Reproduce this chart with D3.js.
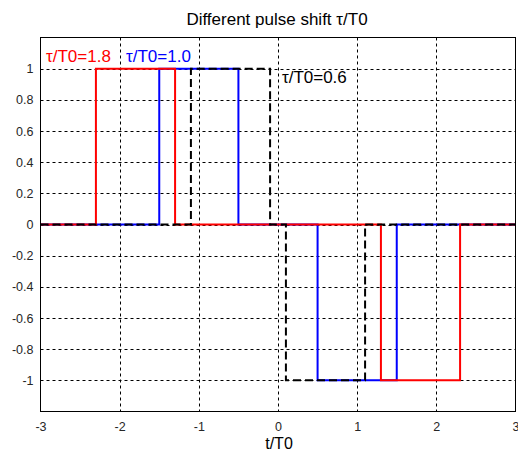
<!DOCTYPE html>
<html><head><meta charset="utf-8">
<script src="https://cdn.jsdelivr.net/npm/d3@7"></script>
<style>body{margin:0;background:#fff}svg{display:block}text{font-family:"Liberation Sans",Arial,sans-serif}</style>
</head><body>
<script>
const xTicks = [-3,-2,-1,0,1,2,3];
const yTicks = [-1,-0.8,-0.6,-0.4,-0.2,0,0.2,0.4,0.6,0.8,1];
// pulse waveforms: [t, value] step points
const blueT = [-3,-1.5,-1.5,-0.5,-0.5,0.5,0.5,1.5,1.5,3];
const blueV = [0,0,1,1,0,0,-1,-1,0,0];
const redT = [-3,-2.3,-2.3,-1.3,-1.3,1.3,1.3,2.3,2.3,3];
const redV = [0,0,1,1,0,0,-1,-1,0,0];
const blackT = [-3,-1.1,-1.1,-0.1,-0.1,0.1,0.1,1.1,1.1,3];
const blackV = [0,0,1,1,0,0,-1,-1,0,0];
const labels = ["τ/T0=1.8","τ/T0=1.0","τ/T0=0.6"];
const labelT = [-2.93,-1.92,0.05];
const labelV = [1.04,1.04,0.905];

const W=518,H=451;
const svg=d3.select("body").append("svg").attr("width",W).attr("height",H);
const x=d3.scaleLinear().domain([-3,3]).range([40.5,515.5]);
const y=d3.scaleLinear().domain([-1.2,1.2]).range([411.5,37.5]);
const fmt=d=>String(d);

// grid
const g=svg.append("g");
g.selectAll(".vx").data(xTicks.slice(1,-1)).join("line")
 .attr("x1",d=>Math.round(x(d))+0.5).attr("x2",d=>Math.round(x(d))+0.5)
 .attr("y1",y(1.2)).attr("y2",y(-1.2))
 .attr("stroke","#000").attr("stroke-width",1).attr("stroke-dasharray","3,3");
g.selectAll(".hy").data(yTicks).join("line")
 .attr("y1",d=>Math.round(y(d))+0.5).attr("y2",d=>Math.round(y(d))+0.5)
 .attr("x1",x(-3)).attr("x2",x(3))
 .attr("stroke","#000").attr("stroke-width",1).attr("stroke-dasharray","3,3");

// axes
const xa=svg.append("g").attr("transform",`translate(0,${y(-1.2)})`)
 .call(d3.axisBottom(x).tickValues(xTicks).tickSize(0).tickPadding(11).tickFormat(fmt));
const ya=svg.append("g").attr("transform",`translate(${x(-3)},0)`)
 .call(d3.axisLeft(y).tickValues(yTicks).tickSize(0).tickPadding(7).tickFormat(fmt));
[xa,ya].forEach(a=>{a.select(".domain").remove();a.selectAll("text").attr("font-size",12.5).attr("fill","#262626");});

// lines
const line=d3.line().x(d=>x(d[0])).y(d=>y(d[1]));
function pts(T,V){return T.map((t,i)=>[t,V[i]]);}
svg.append("path").attr("d",line(pts(blueT,blueV))).attr("fill","none").attr("stroke","#0000ff").attr("stroke-width",2);
svg.append("path").attr("d",line(pts(redT,redV))).attr("fill","none").attr("stroke","#ff0000").attr("stroke-width",2);
svg.append("path").attr("d",line(pts(blackT,blackV))).attr("fill","none").attr("stroke","#000").attr("stroke-width",2).attr("stroke-dasharray","8,4");

// box
svg.append("rect").attr("x",x(-3)).attr("y",y(1.2)).attr("width",x(3)-x(-3)).attr("height",y(-1.2)-y(1.2))
 .attr("fill","none").attr("stroke","#000").attr("stroke-width",1);

// labels
const cols=["#ff0000","#0000ff","#000"];
svg.selectAll(".lab").data(labels).join("text")
 .attr("x",(d,i)=>x(labelT[i])).attr("y",(d,i)=>y(labelV[i]))
 .attr("font-size",17).attr("fill",(d,i)=>cols[i]).text(d=>d);

svg.append("text").attr("x",277).attr("y",25).attr("text-anchor","middle").attr("font-size",17).attr("fill","#000").text("Different pulse shift τ/T0");
svg.append("text").attr("x",279).attr("y",449).attr("text-anchor","middle").attr("font-size",16).attr("fill","#000").text("t/T0");
</script>
</body></html>
